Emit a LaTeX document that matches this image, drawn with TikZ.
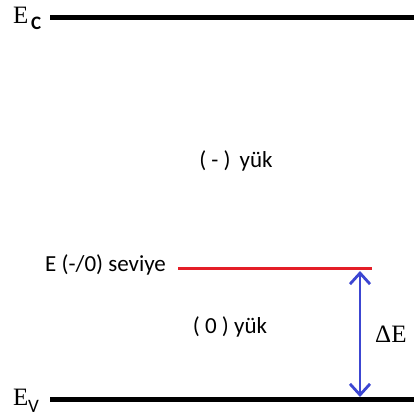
\documentclass[tikz,border=0pt]{standalone}
\usepackage{fontspec}
\setmainfont{Carlito}
\newfontfamily\serifE{Liberation Serif}
\usetikzlibrary{arrows.meta}
\definecolor{lvlred}{RGB}{228,30,40}
\definecolor{gapblue}{RGB}{60,70,210}
\tikzset{
  band/.style={line width=5pt,black},
  level/.style={line width=3pt,lvlred},
  gap/.style={line width=2.8pt,gapblue,
    {Straight Barb[length=11pt,width=20pt,line width=2.8pt]}-{Straight Barb[length=11pt,width=20pt,line width=2.8pt]}},
  lbl/.style={inner sep=0pt,font=\fontsize{23}{27}\selectfont},
  sub/.style={inner sep=0pt,font=\fontsize{19}{22}\selectfont},
  slbl/.style={inner sep=0pt,font=\serifE\fontsize{25}{29}\selectfont}
}
\begin{document}
\begin{tikzpicture}[x=1pt,y=-1pt]
\useasboundingbox (0,0) rectangle (414,417);
% band edges
\coordinate (ec1) at (50,18);
\coordinate (ec2) at (414,18);
\coordinate (ev1) at (50,399);
\coordinate (ev2) at (414,399);
\draw[band] (ec1) -- (ec2);
\draw[band] (ev1) -- (ev2);
\node[slbl,anchor=base west] (ecE) at (13,24) {E};
\node[sub,anchor=base west,font=\fontsize{19}{22}\selectfont\bfseries] (ecC) at (31,30) {C};
\node[slbl,anchor=base west] (evE) at (13,405) {E};
\node[sub,anchor=base west] (evV) at (28,412.5) {V};
% defect level
\coordinate (r1) at (178,268.5);
\coordinate (r2) at (372,268.5);
\draw[level] (r1) -- (r2);
\node[lbl,anchor=base west] (lvl) at (45,271) {E (-/0) seviye};
% charge states
\node[lbl,anchor=base] (neg) at (236,167) {( - )\, yük};
\node[lbl,anchor=base] (zero) at (230,333) {( 0 ) yük};
% gap arrow
\coordinate (at) at (360,271);
\coordinate (ab) at (360,397);
\draw[gap] (at) -- (ab);
\node[slbl,anchor=base west] (dE) at (375,342) {ΔE};
\end{tikzpicture}
\end{document}
